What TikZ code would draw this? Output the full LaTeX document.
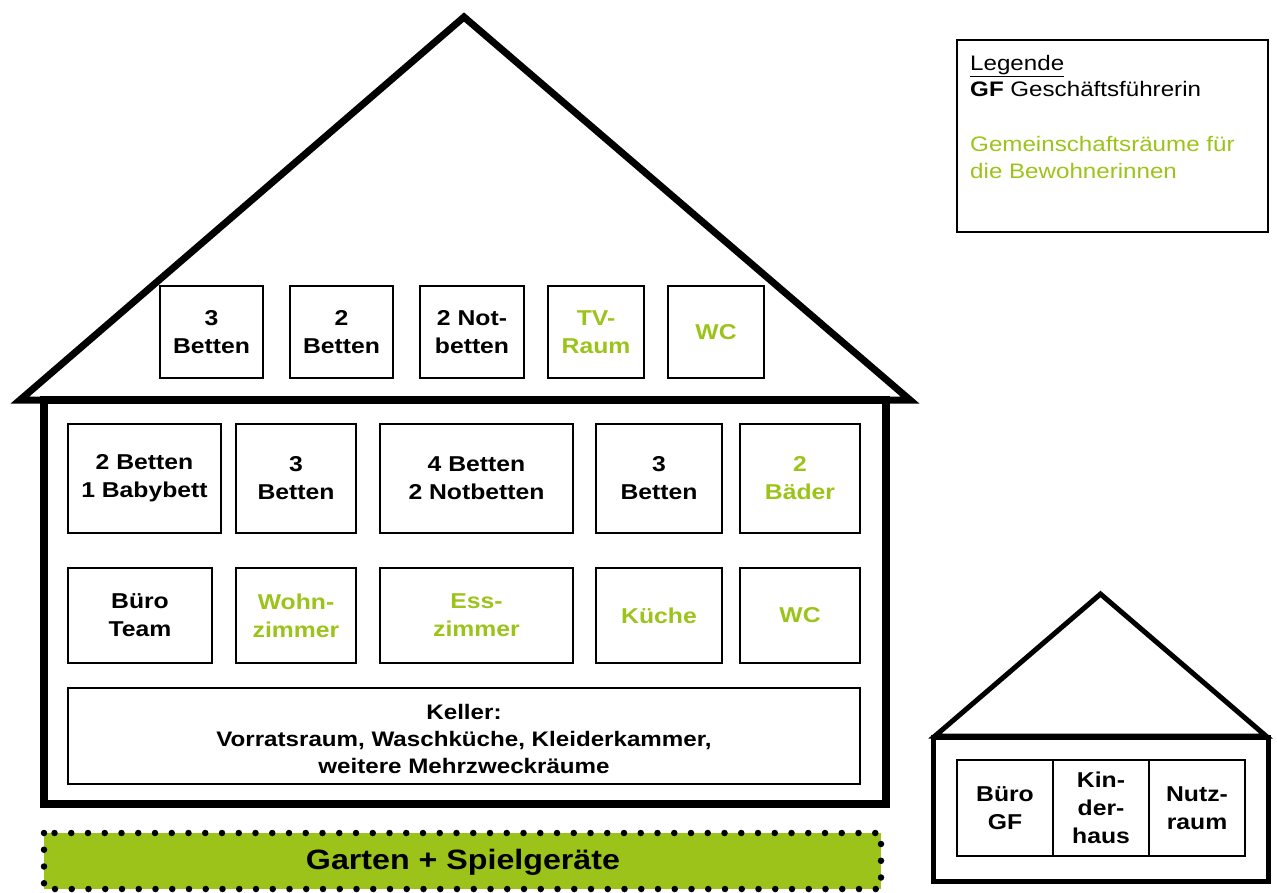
\documentclass[tikz,border=0pt]{standalone}
\usepackage{fontspec}
\setmainfont[FakeStretch=1.15]{Liberation Sans}
\definecolor{gruen}{RGB}{156,195,26}
\begin{document}
\begin{tikzpicture}[x=1pt,y=-1pt,
  room/.style={draw, line width=1.5pt, inner sep=0pt, align=center,
    font=\bfseries\fontsize{21.5}{28}\selectfont},
  gem/.style={room, text=gruen},
  legtext/.style={anchor=base west, inner sep=0pt, font=\fontsize{21}{26}\selectfont}]
\useasboundingbox (0,0) rectangle (1277,892);
% big house
\draw[line width=7pt, miter limit=20] (20,400) -- (464,17) -- (910,400) -- cycle;
\draw[line width=7.5pt] (44,400) rectangle (886,804);
% attic
\node[room, minimum width=103pt, minimum height=92pt] (a1) at (211.5,332) {3\\Betten};
\node[room, minimum width=103pt, minimum height=92pt] (a2) at (341.5,332) {2\\Betten};
\node[room, minimum width=104pt, minimum height=92pt] (a3) at (472,332) {2 Not-\\betten};
\node[gem, minimum width=96pt, minimum height=92pt] (a4) at (596,332) {TV-\\Raum};
\node[gem, minimum width=96pt, minimum height=92pt] (a5) at (716,332) {WC};
% first row
\node[room, minimum width=153pt, minimum height=109pt] (r1) at (144.5,478.5) {2 Betten\\1 Babybett};
\node[room, minimum width=120pt, minimum height=109pt] (r2) at (296,478.5) {3\\Betten};
\node[room, minimum width=193pt, minimum height=109pt] (r3) at (476.5,478.5) {4 Betten\\2 Notbetten};
\node[room, minimum width=126pt, minimum height=109pt] (r4) at (659,478.5) {3\\Betten};
\node[gem, minimum width=120pt, minimum height=109pt] (r5) at (800,478.5) {2\\Bäder};
% second row
\node[room, minimum width=144pt, minimum height=95pt] (s1) at (140,615.5) {Büro\\Team};
\node[gem, minimum width=120pt, minimum height=95pt] (s2) at (296,615.5) {Wohn-\\zimmer};
\node[gem, minimum width=193pt, minimum height=95pt] (s3) at (476.5,615.5) {Ess-\\zimmer};
\node[gem, minimum width=126pt, minimum height=95pt] (s4) at (659,615.5) {Küche};
\node[gem, minimum width=120pt, minimum height=95pt] (s5) at (800,615.5) {WC};
% cellar
\node[draw, line width=1.5pt, minimum width=792pt, minimum height=96pt, inner sep=0pt] (keller) at (464,736) {};
\node[align=center, inner sep=0pt, font=\bfseries\fontsize{21}{27}\selectfont] (kellertext) at (464,739) {Keller:\\Vorratsraum, Waschküche, Kleiderkammer,\\weitere Mehrzweckräume};
% garden
\fill[gruen] (44,833) rectangle (881,889);
\draw[line width=6.5pt, line cap=round, dash pattern=on 0pt off 16.75pt] (44,833) rectangle (881,889);
\node[font=\bfseries\fontsize{28}{32}\selectfont] (garten) at (463,862) {Garten + Spielgeräte};
% small house
\draw[line width=5pt, miter limit=20] (935,736) -- (1100.5,594) -- (1266,736) -- cycle;
\draw[line width=5pt] (933,737) rectangle (1268,881);
\node[room, minimum width=96pt, minimum height=96pt] (k1) at (1005,808) {Büro\\GF};
\node[room, minimum width=96pt, minimum height=96pt] (k2) at (1101,808) {Kin-\\der-\\haus};
\node[room, minimum width=96pt, minimum height=96pt] (k3) at (1197,808) {Nutz-\\raum};
% legend
\node[draw, line width=1.5pt, minimum width=311pt, minimum height=192pt, inner sep=0pt] (legende) at (1112.5,136) {};
\node[legtext] (l1) at (970,70) {\underline{Legende}};
\node[legtext] (l2) at (970,96.5) {\textbf{GF} Geschäftsführerin};
\node[legtext, text=gruen] (l3) at (970,151.5) {Gemeinschaftsräume für};
\node[legtext, text=gruen] (l4) at (970,178) {die Bewohnerinnen};
\end{tikzpicture}
\end{document}
